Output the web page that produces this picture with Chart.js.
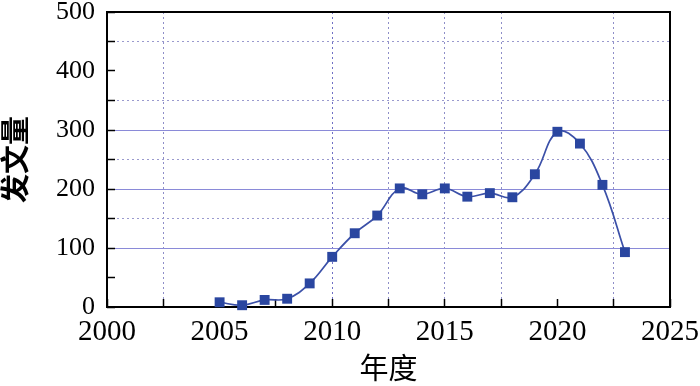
<!DOCTYPE html>
<html>
<head>
<meta charset="utf-8">
<script src="https://cdn.jsdelivr.net/npm/chart.js@4"></script>
<style>
html, body { margin: 0; background: #fff; }
#wrap { width: 700px; height: 386px; }
</style>
</head>
<body>
<div id="wrap"><canvas id="chart"></canvas></div>
<script>
const years = [2005, 2006, 2007, 2008, 2009, 2010, 2011, 2012, 2013, 2014, 2015, 2016, 2017, 2018, 2019, 2020, 2021, 2022, 2023];
const counts = [8, 3, 12, 14, 40, 85, 125, 155, 201, 191, 201, 187, 193, 186, 225, 297, 277, 207, 93];
const xLabels = [2000, 2005, 2010, 2015, 2020, 2025];
const yLabels = [0, 100, 200, 300, 400, 500];
// grid lines as they show up in the picture
const solidY = [100, 200, 300];
const dottedY = [150, 250, 350, 450];
const dottedX = [2002.5, 2010, 2012.5, 2015, 2017.5, 2022.5];

const frame = {
    id: 'frame',
    beforeDatasetsDraw(chart) {
        const a = chart.chartArea;
        const ctx = chart.ctx;
        ctx.save();
        ctx.strokeStyle = '#000';
        ctx.lineWidth = 2;
        ctx.strokeRect(a.left, a.top, a.right - a.left, a.bottom - a.top);
        ctx.restore();
    }
};

// fixed box sizes so the plot area lands where it is in the picture
const noPad = s => { s.paddingTop = 0; s.paddingBottom = 0; s.paddingLeft = 0; s.paddingRight = 0; };
const isIn = (list, c) => !!(c.tick && list.includes(c.tick.value));

new Chart(document.getElementById('chart'), {
    type: 'line',
    data: {
        datasets: [{
            data: years.map((y, i) => ({ x: y, y: counts[i] })),
            borderColor: '#3b50a8',
            borderWidth: 1.7,
            tension: 0.4,
            pointStyle: 'rect',
            pointRadius: 7,
            pointBackgroundColor: '#2a46a0',
            pointBorderWidth: 0,
            clip: false
        }]
    },
    options: {
        responsive: true,
        maintainAspectRatio: false,
        animation: false,
        devicePixelRatio: 1,
        layout: { padding: { top: 12, right: 30, left: 0, bottom: 0 } },
        plugins: { legend: { display: false }, tooltip: { enabled: false } },
        scales: {
            x: {
                type: 'linear',
                min: 2000,
                max: 2025,
                afterFit: s => { s.height = 79; noPad(s); },
                border: { display: false, dash: c => isIn(dottedX, c) ? [2, 3] : [] },
                grid: {
                    color: c => c.tick.value === 2010 ? '#6f6fc4' : isIn(dottedX, c) ? '#8e8ec8' : 'rgba(0,0,0,0)',
                    lineWidth: 1,
                    tickColor: '#000',
                    tickWidth: 1.5,
                    tickLength: -8
                },
                ticks: {
                    stepSize: 2.5,
                    autoSkip: false,
                    maxRotation: 0,
                    padding: 16,
                    color: '#000',
                    font: { family: 'Liberation Serif', size: 29 },
                    callback: v => xLabels.includes(v) ? String(v) : ''
                },
                title: {
                    display: true,
                    text: '年度',
                    color: '#000',
                    font: { family: 'Noto Sans CJK SC', size: 29, lineHeight: 1 },
                    padding: { top: 0, bottom: 4 }
                }
            },
            y: {
                min: 0,
                max: 500,
                afterFit: s => { s.width = 107; noPad(s); },
                border: { display: false, dash: c => isIn(dottedY, c) ? [2, 3] : [] },
                grid: {
                    color: c => isIn(solidY, c) ? '#8a8ad8' : isIn(dottedY, c) ? '#9a9ace' : 'rgba(0,0,0,0)',
                    lineWidth: 1,
                    tickColor: '#000',
                    tickWidth: 1.5,
                    tickLength: -8
                },
                ticks: {
                    stepSize: 50,
                    autoSkip: false,
                    padding: 20,
                    color: '#000',
                    font: { family: 'Liberation Serif', size: 26 },
                    callback: v => yLabels.includes(v) ? String(v) : ''
                },
                title: {
                    display: true,
                    text: '发文量',
                    color: '#000',
                    font: { family: 'Noto Sans CJK SC', size: 29, weight: 'bold', lineHeight: 1 },
                    padding: { top: 0, bottom: 0 }
                }
            }
        }
    },
    plugins: [frame]
});
</script>
</body>
</html>
